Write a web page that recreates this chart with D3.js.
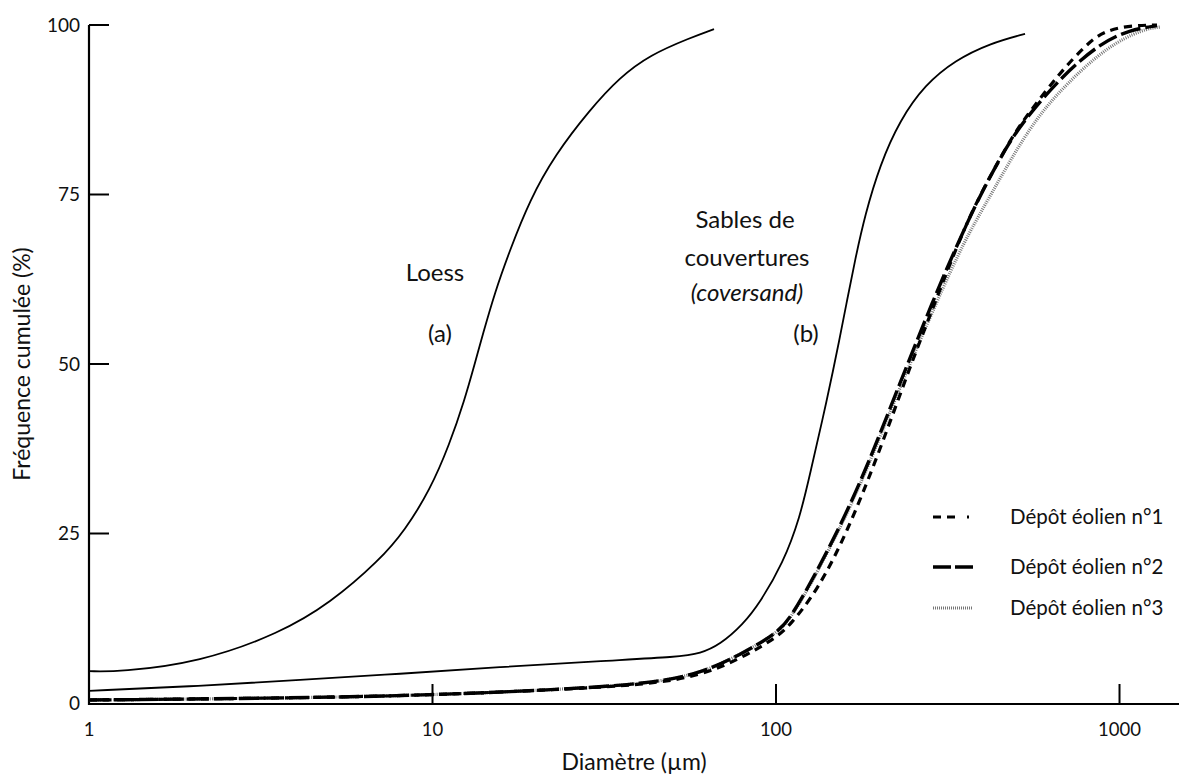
<!DOCTYPE html>
<html><head><meta charset="utf-8">
<script src="https://cdn.jsdelivr.net/npm/d3@7"></script>
<style>
html,body{margin:0;padding:0;background:#fff;}
svg text{font-family:"Lato","Open Sans","Noto Sans",sans-serif;fill:#111;}
</style></head>
<body><svg id="chart" width="1179" height="774"></svg>
<script>
// ---- data (diameter µm, cumulative %) ----
const loess = [[1,4.7],[1.23,4.6],[2.1,6.0],[3.6,10.3],[5.03,14.7],[7.03,21.1],[8.32,25.5],[9.83,31.4],[11.2,38.1],[12.4,44.7],[13.3,50.2],[14.0,54.3],[15.2,60.6],[16.8,66.8],[19.2,74.2],[22.7,80.8],[28.7,87.5],[35.1,92.3],[43.0,95.6],[56.2,98.1],[66.0,99.4]];
const coversand = [[1,1.8],[2.1,2.5],[4.12,3.4],[8.04,4.3],[15.7,5.3],[30.7,6.2],[52.5,6.8],[60.1,7.3],[68.7,8.6],[80.2,11.6],[89.8,14.8],[104.8,20.6],[117.5,27.4],[125.6,33.8],[140.8,44.7],[153.6,54.0],[161,59.4],[169.8,65.3],[181.6,72.0],[200.8,79.4],[229.6,86.0],[271.6,91.2],[332,94.8],[419.8,97.3],[530.8,98.7]];
const depot1 = [[1,0.44],[4.12,0.74],[9.97,1.18],[22,1.92],[42.1,2.7],[60,4.0],[78.6,6.5],[100.7,9.7],[109.9,11.5],[131.7,16.5],[161,25.1],[200.8,37.3],[245.5,49.6],[292,59.4],[343,68.5],[392.6,75.0],[480,83.0],[530.8,86.3],[671,93.0],[804,97.2],[895,99.0],[1051,99.9],[1286,100]];
const depot2 = [[1,0.44],[4.12,0.74],[9.97,1.18],[22,1.92],[42.1,2.8],[60,4.3],[78.6,7.1],[100.7,10.3],[109.9,12.5],[125.6,17.5],[153.6,26.0],[184.1,34.8],[229.6,47.2],[286.5,59.4],[343,68.5],[398,75.5],[480,83.0],[549,87.0],[685,92.6],[878,97.3],[1073,99.3],[1286,99.9]];
const depot3 = [[1,0.44],[4.12,0.74],[9.97,1.18],[22,1.92],[42.1,2.8],[60,4.3],[78.6,7.1],[100.7,10.3],[109.9,12.4],[125.6,17.3],[153.6,25.7],[184.1,34.4],[232,47.2],[295,59.4],[352,68.0],[414,74.2],[480,80.0],[575,86.4],[703,91.4],[920,96.8],[1170,99.4],[1312,99.7]];
const xTicks = [1, 10, 100, 1000];
const yTicks = [0, 25, 50, 75, 100];
const legendLabels = ["Dépôt éolien n°1", "Dépôt éolien n°2", "Dépôt éolien n°3"];

const svg = d3.select("#chart");
const x = d3.scaleLog().domain([1, 1490]).range([89, 1179]);
const y = d3.scaleLinear().domain([0, 100]).range([703, 25]);
const axisY = 704;

// axes lines
svg.append("line").attr("x1", 89).attr("x2", 89).attr("y1", y(100)).attr("y2", axisY+1)
  .attr("stroke", "#000").attr("stroke-width", 2.2);
svg.append("line").attr("x1", 88).attr("x2", 1179).attr("y1", axisY).attr("y2", axisY)
  .attr("stroke", "#000").attr("stroke-width", 2.2);

// y ticks
yTicks.forEach(t => {
  if (t > 0) svg.append("line").attr("x1", 89).attr("x2", 109).attr("y1", y(t)).attr("y2", y(t))
    .attr("stroke", "#000").attr("stroke-width", 2);
  svg.append("text").attr("x", 80).attr("y", y(t)).attr("dy", "0.36em")
    .attr("text-anchor", "end").attr("font-size", 19).text(t);
});
// x ticks
xTicks.forEach(t => {
  if (t > 1) svg.append("line").attr("x1", x(t)).attr("x2", x(t)).attr("y1", axisY).attr("y2", axisY-20)
    .attr("stroke", "#000").attr("stroke-width", 2);
  svg.append("text").attr("x", x(t)).attr("y", 729).attr("dy", "0.36em")
    .attr("text-anchor", "middle").attr("font-size", 18.5).text(t);
});

// axis titles
svg.append("text").attr("x", 634).attr("y", 762).attr("dy", "0.36em").attr("text-anchor", "middle")
  .attr("font-size", 23).text("Diamètre (µm)");
svg.append("text").attr("transform", "translate(22,364) rotate(-90)").attr("dy", "0.36em")
  .attr("text-anchor", "middle").attr("font-size", 23).text("Fréquence cumulée (%)");

const line = d3.line().x(d => x(d[0])).y(d => y(d[1])).curve(d3.curveBasis);

svg.append("path").datum(loess).attr("d", line).attr("fill", "none").attr("stroke", "#000").attr("stroke-width", 1.8);
svg.append("path").datum(coversand).attr("d", line).attr("fill", "none").attr("stroke", "#000").attr("stroke-width", 1.8);

const styles = [
  {data: depot3, stroke: "#777", width: 3.2, dash: "1,1.2"},
  {data: depot2, stroke: "#000", width: 3.4, dash: "20,5"},
  {data: depot1, stroke: "#000", width: 3.2, dash: "8,6"}
];
styles.forEach(s => {
  svg.append("path").datum(s.data).attr("d", line).attr("fill", "none")
    .attr("stroke", s.stroke).attr("stroke-width", s.width).attr("stroke-dasharray", s.dash);
});

// legend
const legStyles = [
  {stroke: "#000", width: 3.2, dash: "8,6,8,12,2,4"},
  {stroke: "#000", width: 3.4, dash: "18,4"},
  {stroke: "#777", width: 3, dash: "1,1"}
];
const legY = [517, 567, 608];
legendLabels.forEach((lab, i) => {
  svg.append("line").attr("x1", 933).attr("x2", 973).attr("y1", legY[i]).attr("y2", legY[i])
    .attr("stroke", legStyles[i].stroke).attr("stroke-width", legStyles[i].width)
    .attr("stroke-dasharray", legStyles[i].dash);
  svg.append("text").attr("x", 1010).attr("y", legY[i]).attr("dy", "0.36em")
    .attr("font-size", 20.5).text(lab);
});

// annotations
const ann = (tx, ty, txt, italic) => svg.append("text").attr("x", tx).attr("y", ty).attr("dy", "0.36em")
  .attr("text-anchor", "middle").attr("font-size", 24).attr("font-style", italic ? "italic" : "normal").text(txt);
ann(435, 272, "Loess");
ann(440, 333, "(a)");
ann(745, 219, "Sables de");
ann(747, 257, "couvertures");
ann(747, 292, "(coversand)", true);
ann(806, 333, "(b)");
</script></body></html>
